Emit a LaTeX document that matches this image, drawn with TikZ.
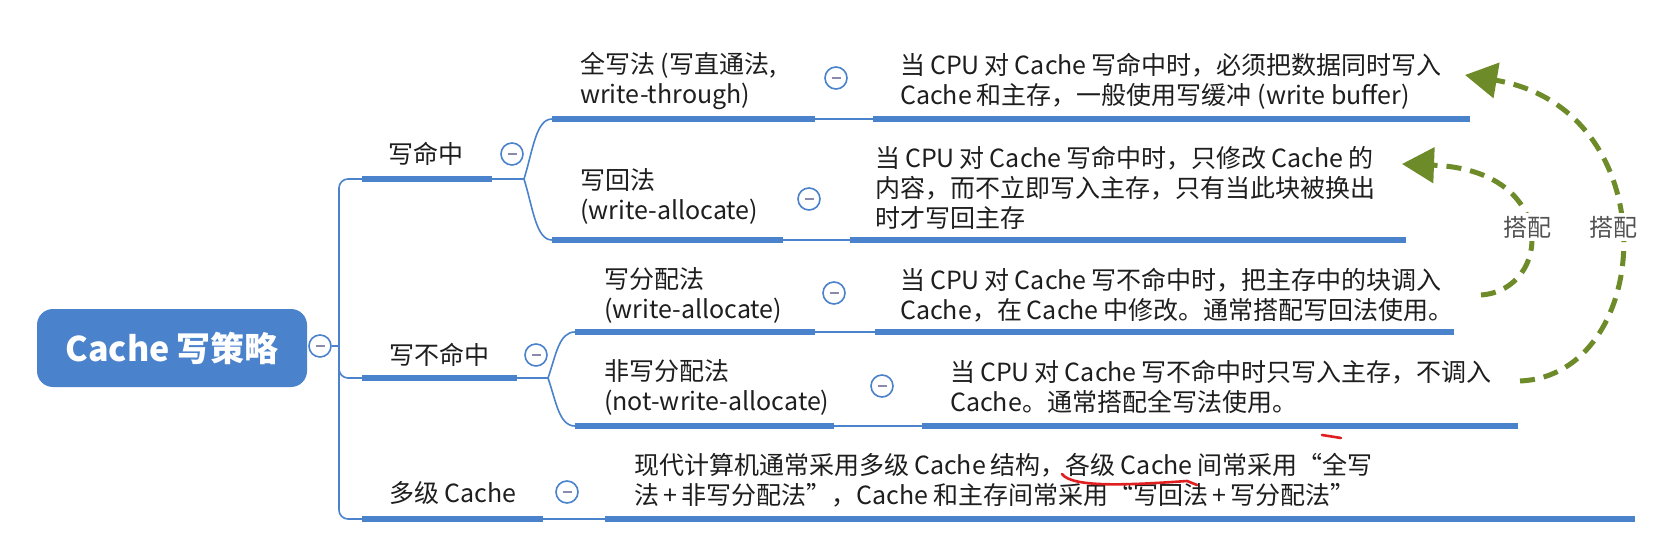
\documentclass[tikz,border=0pt]{standalone}
\usepackage{fontspec}
\setmainfont{Noto Sans CJK SC}
\usetikzlibrary{arrows.meta}
\definecolor{mblue}{HTML}{4A82CC}
\definecolor{mgreen}{HTML}{6E8B2A}
\definecolor{mminus}{HTML}{8A8AAE}
\definecolor{mtext}{HTML}{1E1E1E}
\definecolor{mred}{HTML}{E02020}
\newcommand\cjg{\hspace{0.2em}}
\begin{document}
\begin{tikzpicture}[x=1pt,y=-1pt,
  txt/.style={font=\fontsize{25}{30}\selectfont, text=mtext, align=left, inner sep=0pt, anchor=west},
  bar/.style={draw=mblue, line width=5.5pt},
  link/.style={draw=mblue, line width=1.6pt},
  tog/.style={circle, draw=mblue, line width=1.6pt, fill=white, minimum size=22pt, inner sep=0pt,
    path picture={\draw[mminus, line width=1.6pt] ([xshift=-4.5pt]path picture bounding box.center) -- ([xshift=4.5pt]path picture bounding box.center);}},
  rootbox/.style={fill=mblue, rounded corners=16pt, minimum width=270pt, minimum height=78pt, text=white, font=\fontsize{34}{40}\selectfont\bfseries},
  gdash/.style={draw=mgreen, line width=5pt, dash pattern=on 15pt off 9pt, -{Triangle[length=32pt,width=35pt]}},
  lbl/.style={font=\fontsize{24}{28}\selectfont, text=black!68, fill=white, inner sep=3pt}
]
\useasboundingbox (0,0) rectangle (1670,537);
\fill[white] (0,0) rectangle (1670,537);

% root
\node[rootbox] (root) at (172,348) {Cache\cjg 写策略};
\node[tog] (c0) at (320,346) {};
\coordinate (tj) at (339,346);
\draw[link] (c0) -- (tj);

% level 1 coordinates
\coordinate (h1a) at (362,179); \coordinate (h1b) at (492,179); \coordinate (h1j) at (524,179);
\coordinate (h2a) at (362,378); \coordinate (h2b) at (517,378); \coordinate (h2j) at (548,378);
\coordinate (h3a) at (362,519); \coordinate (h3b) at (543,519); \coordinate (h3j) at (605,519);
\coordinate (tkb) at (339,519); \coordinate (tkm) at (339,350);

\draw[link, rounded corners=9pt] (h1a) -| (tkb) -- (h3a);
\draw[link, rounded corners=9pt] (tkm) |- (h2a);

\draw[bar] (h1a) -- (h1b); \draw[link] (h1b) -- (h1j);
\draw[bar] (h2a) -- (h2b); \draw[link] (h2b) -- (h2j);
\draw[bar] (h3a) -- (h3b); \draw[link] (h3b) -- (h3j);

\node[txt, anchor=center] (h1) at (426,154) {写命中};
\node[txt, anchor=center] (h2) at (439,355) {写不命中};
\node[txt, anchor=center] (h3) at (453,493) {多级\cjg Cache};
\node[tog] (c1) at (512,154) {};
\node[tog] (c2) at (536,355) {};
\node[tog] (c3) at (567,492) {};

% level 2 coordinates
\coordinate (b1a) at (552,119); \coordinate (b1b) at (815,119); \coordinate (b1c) at (873,119); \coordinate (b1d) at (1470,119);
\coordinate (b2a) at (552,240); \coordinate (b2b) at (783,240); \coordinate (b2c) at (850,240); \coordinate (b2d) at (1406,240);
\coordinate (b3a) at (575,332); \coordinate (b3b) at (815,332); \coordinate (b3c) at (875,332); \coordinate (b3d) at (1454,332);
\coordinate (b4a) at (575,426); \coordinate (b4b) at (834,426); \coordinate (b4c) at (922,426); \coordinate (b4d) at (1518,426);
\coordinate (b5d) at (1635,519);

\draw[link] (h1j) .. controls (533,150) and (536,119) .. (b1a);
\draw[link] (h1j) .. controls (533,208) and (536,240) .. (b2a);
\draw[link] (h2j) .. controls (556,355) and (559,332) .. (b3a);
\draw[link] (h2j) .. controls (556,401) and (559,426) .. (b4a);

\draw[bar] (b1a) -- (b1b); \draw[link] (b1b) -- (b1c); \draw[bar] (b1c) -- (b1d);
\draw[bar] (b2a) -- (b2b); \draw[link] (b2b) -- (b2c); \draw[bar] (b2c) -- (b2d);
\draw[bar] (b3a) -- (b3b); \draw[link] (b3b) -- (b3c); \draw[bar] (b3c) -- (b3d);
\draw[bar] (b4a) -- (b4b); \draw[link] (b4b) -- (b4c); \draw[bar] (b4c) -- (b4d);
\draw[bar] (h3j) -- (b5d);

% level 2 texts
\node[txt] (t1) at (580,81) {全写法 (写直通法,\\write-through)};
\node[txt] (t2) at (580,196) {写回法\\(write-allocate)};
\node[txt] (t3) at (604,295) {写分配法\\(write-allocate)};
\node[txt] (t4) at (604,387) {非写分配法\\(not-write-allocate)};
\node[tog] (c4) at (836,78) {};
\node[tog] (c5) at (809,199) {};
\node[tog] (c6) at (834,293) {};
\node[tog] (c7) at (882,386) {};

% descriptions
\node[txt] (d1) at (900,81) {当\cjg CPU\cjg 对\cjg Cache\cjg 写命中时，必须把数据同时写入\\Cache\cjg 和主存，一般使用写缓冲 (write buffer)};
\node[txt] (d2) at (875,188) {当\cjg CPU\cjg 对\cjg Cache\cjg 写命中时，只修改\cjg Cache\cjg 的\\内容，而不立即写入主存，只有当此块被换出\\时才写回主存};
\node[txt] (d3) at (900,295) {当\cjg CPU\cjg 对\cjg Cache\cjg 写不命中时，把主存中的块调入\\Cache，在\cjg Cache\cjg 中修改。通常搭配写回法使用。};
\node[txt] (d4) at (950,387) {当\cjg CPU\cjg 对\cjg Cache\cjg 写不命中时只写入主存，不调入\\Cache。通常搭配全写法使用。};
\node[txt] (d5) at (634,480) {现代计算机通常采用多级\cjg Cache\cjg 结构，各级\cjg Cache\cjg 间常采用“全写\\法\,+\,非写分配法”，Cache\cjg 和主存间常采用“写回法\,+\,写分配法”};

% dashed green arrows
\coordinate (gA0) at (1520,381); \coordinate (gA1) at (1465,75);
\coordinate (gB0) at (1481,295); \coordinate (gB1) at (1402,164);
\draw[gdash] (gA0) .. controls (1655,375) and (1670,110) .. (gA1);
\draw[gdash] (gB0) .. controls (1552,290) and (1560,170) .. (gB1);
\node[lbl] (lA) at (1613,227) {搭配};
\node[lbl] (lB) at (1527,227) {搭配};

% red hand annotation
\coordinate (r0) at (1062,474); \coordinate (r1) at (1197,485);
\draw[mred, line width=2.6pt, line cap=round] (r0) .. controls (1072,488) and (1130,485) .. (1187,481) -- (r1);
\coordinate (r2) at (1322,435); \coordinate (r3) at (1341,438);
\draw[mred, line width=2.6pt, line cap=round] (r2) -- (r3);
\end{tikzpicture}
\end{document}
